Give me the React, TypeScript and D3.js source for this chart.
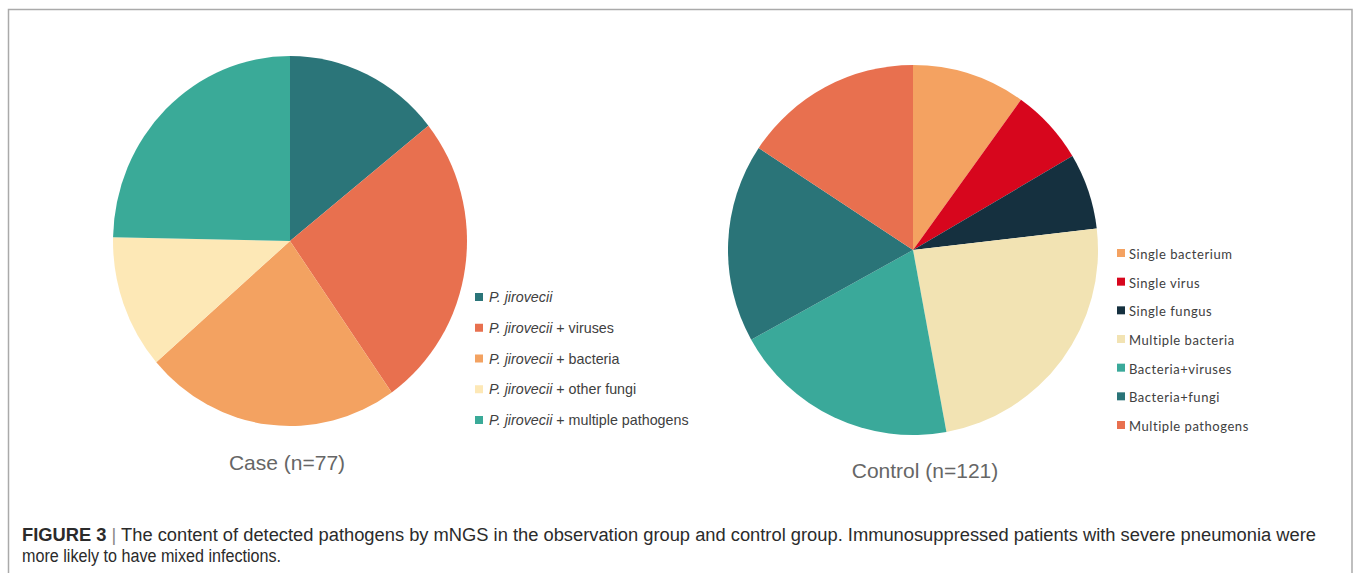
import React from "react";
import * as d3 from "d3";

// Case group: pathogen combinations detected by mNGS
const caseLabels = [
  "P. jirovecii",
  "P. jirovecii + viruses",
  "P. jirovecii + bacteria",
  "P. jirovecii + other fungi",
  "P. jirovecii + multiple pathogens",
];
const caseValues = [11, 20, 18, 9, 19];
const caseColors = ["#2b7579", "#e8704f", "#f3a261", "#fde8b6", "#3aaa98"];

// Control group
const controlLabels = [
  "Single bacterium",
  "Single virus",
  "Single fungus",
  "Multiple bacteria",
  "Bacteria+viruses",
  "Bacteria+fungi",
  "Multiple pathogens",
];
const controlValues = [12, 8, 8, 29, 24, 21, 19];
const controlColors = ["#f4a261", "#d7061d", "#15303f", "#f2e3b3", "#3aa99a", "#2a7478", "#e8704f"];

const titles = ["Case (n=77)", "Control (n=121)"];

const pie = d3.pie<number>().sort(null).value((d) => d);

function Pie({ values, colors, cx, cy, rx, ry }: { values: number[]; colors: string[]; cx: number; cy: number; rx: number; ry: number }) {
  const arc = d3.arc<d3.PieArcDatum<number>>().innerRadius(0).outerRadius(rx);
  const arcs = pie(values);
  return (
    <g transform={`translate(${cx},${cy}) scale(1,${ry / rx})`}>
      {arcs.map((a, i) => (
        <path key={i} d={arc(a) || ""} fill={colors[i]} />
      ))}
    </g>
  );
}

export default function App() {
  const caseLegendY = d3.scaleLinear().domain([0, 4]).range([297, 420]);
  const ctrlLegendY = d3.scaleLinear().domain([0, 6]).range([254, 426]);
  return (
    <svg
      width={1354}
      height={573}
      style={{ position: "absolute", left: 0, top: 0, background: "#fff" }}
    >
      <rect x={8.5} y={9.5} width={1343.5} height={580} fill="#fff" stroke="#aaaaaa" strokeWidth={1.5} />

      <Pie values={caseValues} colors={caseColors} cx={290} cy={241} rx={177} ry={185} />
      <Pie values={controlValues} colors={controlColors} cx={913} cy={250} rx={185} ry={185} />

      {/* Case legend */}
      <g fontFamily="'Liberation Sans', Arial, sans-serif" fontSize={14.3} fill="#404040">
        {caseLabels.map((l, i) => {
          const y = caseLegendY(i);
          const [italic, rest] = l.startsWith("P. jirovecii") ? ["P. jirovecii", l.slice(12)] : ["", l];
          return (
            <g key={l}>
              <rect x={475} y={y - 4} width={8} height={8} fill={caseColors[i]} />
              <text x={489} y={y + 5}>
                <tspan fontStyle="italic">{italic}</tspan>
                <tspan>{rest}</tspan>
              </text>
            </g>
          );
        })}
      </g>

      {/* Control legend */}
      <g fontFamily="Lato, 'Open Sans', sans-serif" fontSize={13} fill="#404040" letterSpacing={0.55}>
        {controlLabels.map((l, i) => {
          const y = ctrlLegendY(i);
          return (
            <g key={l}>
              <rect x={1117} y={y - 5} width={8} height={8} fill={controlColors[i]} />
              <text x={1129} y={y + 5}>{l}</text>
            </g>
          );
        })}
      </g>

      <g fontFamily="'Liberation Sans', Arial, sans-serif" fontSize={21} fill="#666666" textAnchor="middle">
        <text x={287} y={470}>{titles[0]}</text>
        <text x={925} y={478}>{titles[1]}</text>
      </g>

      <g fontFamily="'Liberation Sans', Arial, sans-serif" fontSize={18} fill="#2b2b2b">
        <text x={22} y={541} textLength={1294} lengthAdjust="spacingAndGlyphs">
          <tspan fontWeight="bold">FIGURE 3</tspan>
          <tspan fill="#888"> | </tspan>
          <tspan>The content of detected pathogens by mNGS in the observation group and control group. Immunosuppressed patients with severe pneumonia were</tspan>
        </text>
        <text x={22} y={562} textLength={259} lengthAdjust="spacingAndGlyphs">more likely to have mixed infections.</text>
      </g>
    </svg>
  );
}
